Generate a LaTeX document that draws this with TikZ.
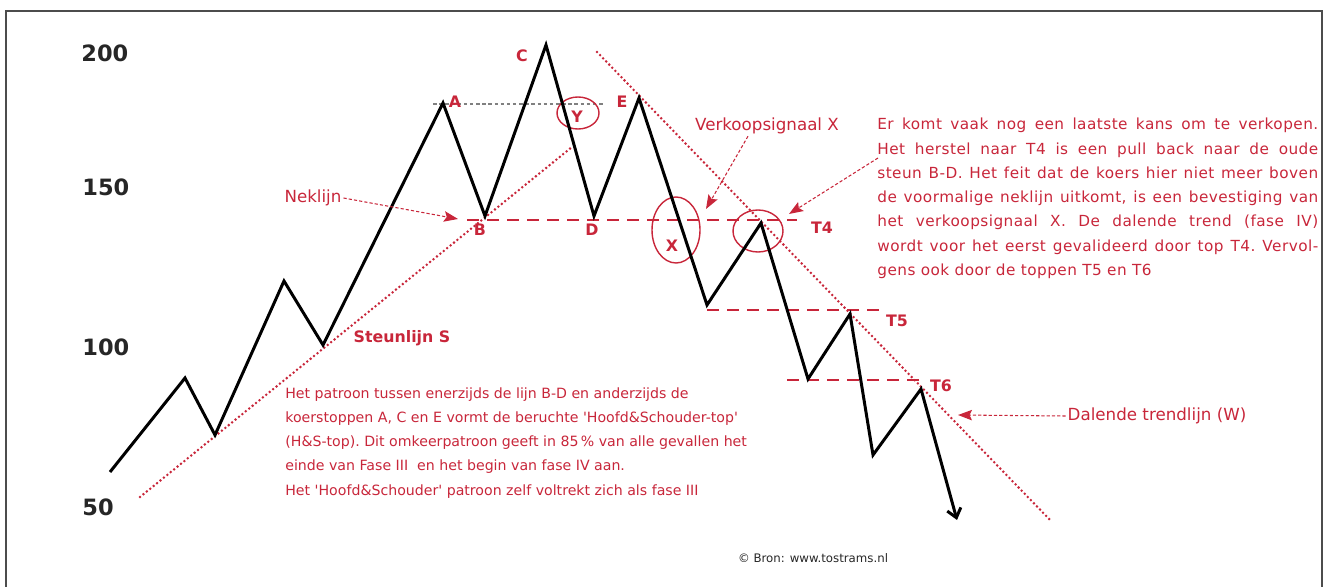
\documentclass[tikz,border=0pt]{standalone}
\usepackage{fontspec}
\setmainfont{DejaVu Sans}
\newfontfamily\ruimfont[LetterSpace=3]{DejaVu Sans}
\usepackage{tikz}
\usetikzlibrary{arrows.meta,positioning}

\definecolor{rood}{RGB}{200,38,58}
\newlength{\blokbreedte}
\setlength{\blokbreedte}{8.82cm}

\begin{document}
\begin{tikzpicture}[x=0.02cm, y=-0.02cm,
    kader/.style={draw=black!70, line width=1pt},
    koers/.style={line width=1.7pt, -{Straight Barb[length=5pt,width=8pt]}},
    as/.style={anchor=west, inner sep=0pt, font=\fontsize{12.8}{15}\selectfont\bfseries, text=black!85},
    punt/.style={font=\fontsize{9}{11}\selectfont\bfseries, text=rood, inner sep=1pt},
    opschrift/.style={font=\fontsize{9.5}{11}\selectfont, text=rood, inner sep=1pt},
    uitleg/.style={font=\fontsize{8.05}{13.8}\selectfont\frenchspacing, text=rood, inner sep=0pt, anchor=north west},
    hulplijn/.style={draw=black!50, line width=0.6pt, dash pattern=on 2pt off 1.5pt},
    niveau/.style={draw=rood, line width=1.5pt, dash pattern=on 6.8pt off 4.6pt},
    trend/.style={draw=rood, line width=1.6pt, line cap=round, dash pattern=on 0pt off 2.5pt},
    cirkel/.style={draw=rood, line width=0.8pt},
    pijl/.style={draw=rood, line width=0.6pt, dash pattern=on 1.8pt off 1.2pt, -{Stealth[length=8pt,width=6pt,inset=1.5pt]}}]
    \useasboundingbox (0,0) rectangle (1324,587);
    \draw[kader] (6,587) -- (6,11) -- (1322,11) -- (1322,587);

    \node[as] (v200) at (81,53) {200};
    \node[as] (v150) at (82,187) {150};
    \node[as] (v100) at (82,347) {100};
    \node[as] (v50) at (82,507) {50};

    \coordinate (p0) at (110,472);
    \coordinate (p1) at (185,378);
    \coordinate (p2) at (215,435);
    \coordinate (p3) at (284,281);
    \coordinate (p4) at (323,345);
    \coordinate (A) at (443,103);
    \coordinate (B) at (485,216);
    \coordinate (C) at (546,45);
    \coordinate (D) at (594,216);
    \coordinate (E) at (639,98);
    \coordinate (p5) at (707,305);
    \coordinate (T4) at (761,223);
    \coordinate (p6) at (808,379);
    \coordinate (T5) at (850,314);
    \coordinate (p7) at (873,455);
    \coordinate (T6) at (921,389);
    \coordinate (eind) at (957,520);

    \coordinate (s1) at (140,497);
    \coordinate (s2) at (572,147);
    \coordinate (w1) at (597,52);
    \coordinate (w2) at (1052,522);
    \coordinate (ha1) at (433,104);
    \coordinate (ha2) at (604,104);
    \coordinate (nek1) at (467,220);
    \coordinate (nek2) at (797,220);
    \coordinate (t5a) at (707,310);
    \coordinate (t5b) at (885,310);
    \coordinate (t6a) at (787,380);
    \coordinate (t6b) at (922,380);

    \draw[trend] (s1) -- (s2);
    \draw[trend] (w1) -- (w2);
    \draw[hulplijn] (ha1) -- (ha2);
    \draw[niveau] (nek1) -- (nek2);
    \draw[niveau] (t5a) -- (t5b);
    \draw[niveau] (t6a) -- (t6b);
    \draw[cirkel] (578,113) ellipse [x radius=21, y radius=16];
    \draw[cirkel] (676,230) ellipse [x radius=24, y radius=33];
    \draw[cirkel] (758,231) ellipse [x radius=25, y radius=21];

    \draw[koers] (p0) -- (p1) -- (p2) -- (p3) -- (p4) -- (A) -- (B) -- (C) -- (D) -- (E)
        -- (p5) -- (T4) -- (p6) -- (T5) -- (p7) -- (T6) -- (eind);

    \node[punt] (lA) at (455,102) {A};
    \node[punt] (lB) at (480,230) {B};
    \node[punt] (lC) at (522,56) {C};
    \node[punt] (lD) at (592,230) {D};
    \node[punt] (lE) at (622,102) {E};
    \node[punt] (lY) at (577,117) {Y};
    \node[punt] (lX) at (672,246) {X};
    \node[punt] (lT4) at (822,228) {T4};
    \node[punt] (lT5) at (897,321) {T5};
    \node[punt] (lT6) at (941,386) {T6};

    \node[opschrift] (neklijn) at (313,198) {Neklijn};
    \node[opschrift, font=\fontsize{9}{11}\selectfont\bfseries] (steun) at (402,338) {Steunlijn S};
    \node[opschrift] (verkoop) at (767,126) {Verkoopsignaal X};
    \node[opschrift] (trendtekst) at (1157,416) {Dalende trendlijn (W)};
    \node[font=\fontsize{6.7}{9}\selectfont, text=black!85] (bron) at (813,558) {\textcopyright{} Bron: www.tostrams.nl};

    \node[uitleg, text width=\blokbreedte, align=justify, font=\ruimfont\fontsize{8.7}{13.8}\selectfont\frenchspacing] (herstel) at (877,118) {%
        Er komt vaak nog een laatste kans om te verkopen.\linebreak
        Het herstel naar T4 is een pull back naar de oude\linebreak
        steun B-D. Het feit dat de koers hier niet meer boven\linebreak
        de voormalige neklijn uitkomt, is een bevestiging van\linebreak
        het verkoopsignaal X. De dalende trend (fase IV)\linebreak
        wordt voor het eerst gevalideerd door top T4. Vervol-\linebreak
        gens ook door de toppen T5 en T6};
    \node[uitleg, align=left] (patroon) at (285,387) {%
        Het patroon tussen enerzijds de lijn B-D en anderzijds de\\
        koerstoppen A, C en E vormt de beruchte \textquotesingle Hoofd\&Schouder-top\textquotesingle\\
        (H\&S-top). Dit omkeerpatroon geeft in 85\,\% van alle gevallen het\\
        einde van Fase III\ \ en het begin van fase IV aan.\\
        Het \textquotesingle Hoofd\&Schouder\textquotesingle{} patroon zelf voltrekt zich als fase III};

    \coordinate (nekpunt) at (458,219);
    \coordinate (vkpunt) at (706,209);
    \coordinate (t4start) at (878,158);
    \coordinate (t4punt) at (789,214);
    \coordinate (wpunt) at (958,415);
    \draw[pijl] (neklijn.east) -- (nekpunt);
    \draw[pijl] ([xshift=-0.38cm]verkoop.south) -- (vkpunt);
    \draw[pijl] (t4start) -- (t4punt);
    \draw[pijl] (trendtekst.west) -- (wpunt);
\end{tikzpicture}
\end{document}
